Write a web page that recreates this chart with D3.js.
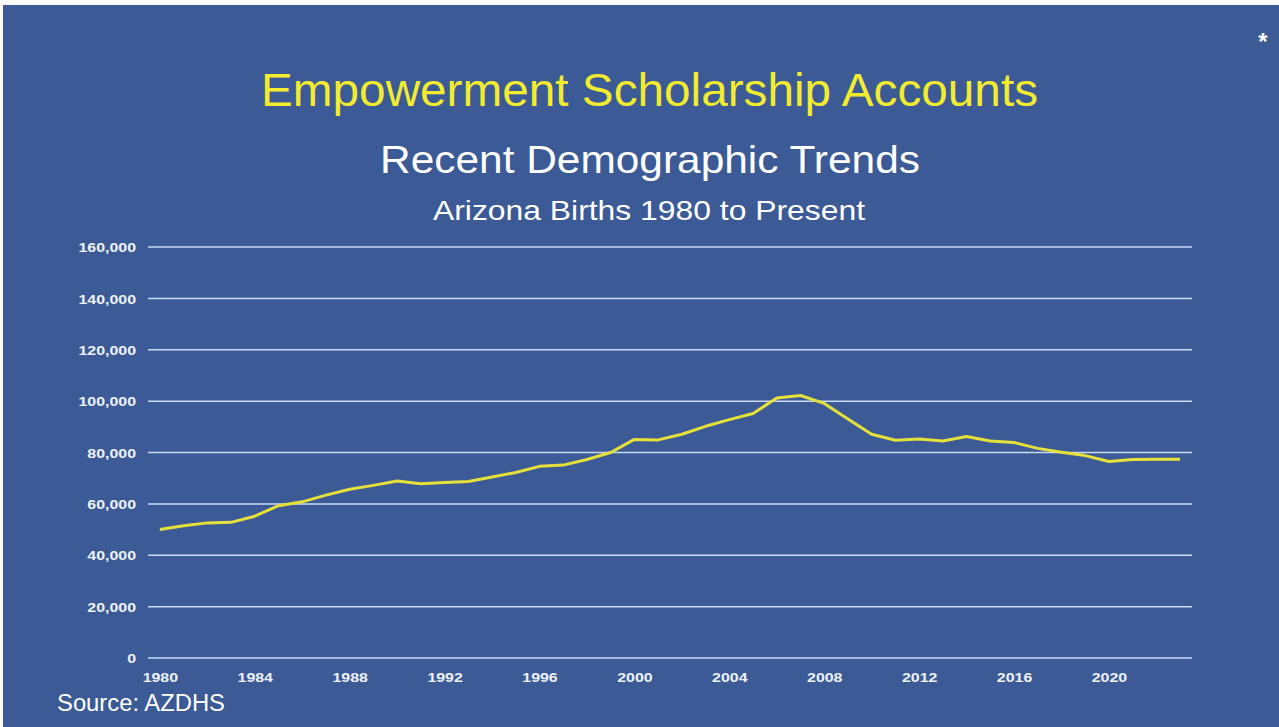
<!DOCTYPE html>
<html><head><meta charset="utf-8">
<script src="https://cdn.jsdelivr.net/npm/d3@7"></script>
<style>html,body{margin:0;padding:0;background:#fff;overflow:hidden}svg{display:block}</style>
</head><body>
<svg id="c" width="1279" height="727"></svg>
<script>
const years = d3.range(1980, 2024);
const births = [50000,51500,52600,52800,55200,59300,60800,63400,65700,67200,
  68900,67800,68300,68700,70500,72200,74600,75100,77300,80000,
  85100,84900,87100,90200,92800,95200,101200,102200,99100,93000,
  87100,84800,85300,84500,86200,84500,83900,81600,80100,78800,
  76500,77300,77400,77400];
const yTicks = [0,20000,40000,60000,80000,100000,120000,140000,160000];
const xTickYears = [1980,1984,1988,1992,1996,2000,2004,2008,2012,2016,2020];
const titleText = "Empowerment Scholarship Accounts";
const subtitleText = "Recent Demographic Trends";
const subtitle2Text = "Arizona Births 1980 to Present";
const sourceText = "Source: AZDHS";

(function(){
const svg = d3.select("#c");
const W = 1279, H = 727;
svg.append("rect").attr("x",0).attr("y",0).attr("width",W).attr("height",H).attr("fill","#fbfbfb");
svg.append("rect").attr("x",3).attr("y",5).attr("width",W-3).attr("height",H-5).attr("fill","#3b5a96");

const font = "'Liberation Sans', Arial, sans-serif";
const pL = 148, pR = 1192, pT = 247, pB = 658;
const sx = 1.18;

const x = d3.scalePoint().domain(years).range([pL, pR]).padding(0.5);
const y = d3.scaleLinear().domain([0,160000]).range([pB, pT]);

svg.append("g").selectAll("line").data(yTicks).join("line")
  .attr("x1", pL).attr("x2", pR)
  .attr("y1", d=>y(d)).attr("y2", d=>y(d))
  .attr("stroke", "#c9dbf3").attr("stroke-width", 1.5);

const yAxis = d3.axisLeft(y).tickValues(yTicks).tickSize(0).tickPadding(0)
  .tickFormat(d3.format(","));
const gy = svg.append("g").attr("transform", `translate(${pL - 12},0)`).call(yAxis);
gy.select(".domain").remove();
gy.selectAll("text").attr("fill","#eef2fa").attr("font-family",font)
  .attr("font-weight","bold").attr("font-size",13.5).attr("dy","0.35em")
  .attr("x",0).attr("transform",`scale(${sx},1)`);

const xAxis = d3.axisBottom(x).tickValues(xTickYears).tickSize(0).tickPadding(14);
const gx = svg.append("g").attr("transform", `translate(0,${pB})`).call(xAxis);
gx.select(".domain").remove();
gx.selectAll("text").attr("fill","#eef2fa").attr("font-family",font)
  .attr("font-weight","bold").attr("font-size",13.5)
  .attr("transform",`scale(${sx},1)`).attr("y", 14/1).attr("dy","0.71em");

const line = d3.line().x((d,i)=>x(years[i])).y(d=>y(d));
svg.append("path").datum(births).attr("d", line)
  .attr("fill","none").attr("stroke","#e6e03a").attr("stroke-width",3)
  .attr("stroke-linejoin","round");

function txt(t, x0, x1, yb, size, fill){
  svg.append("text").attr("x",x0).attr("y",yb)
    .attr("textLength", x1 - x0).attr("lengthAdjust","spacingAndGlyphs")
    .attr("font-family",font).attr("font-size",size).attr("fill",fill).text(t);
}
txt(titleText, 261, 1038, 106, 46, "#f3ec2e");
txt(subtitleText, 380, 920, 173, 38.5, "#ffffff");
txt(subtitle2Text, 433, 865, 220, 28, "#ffffff");
txt(sourceText, 57, 225, 711, 23, "#ffffff");
svg.append("text").attr("x",1263).attr("y",50).attr("text-anchor","middle")
  .attr("font-family",font).attr("font-size",24).attr("font-weight","bold").attr("fill","#ffffff").text("*");
})();
</script>
</body></html>
